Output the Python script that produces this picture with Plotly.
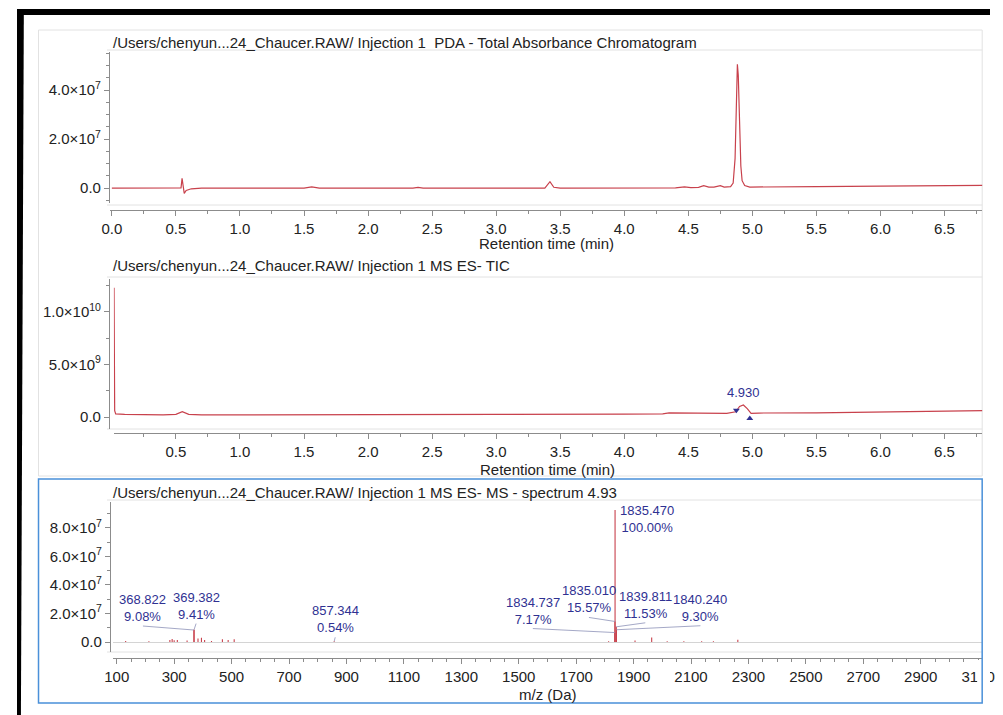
import plotly.graph_objects as go

# The page body has an 8 px margin, so the figure is offset by 8 px inside the 1003x715 window.
OFF = 8
FW, FH = 1003 - OFF, 715 - OFF


def px(x):
    """reference-window x pixel -> paper fraction"""
    return (x - OFF) / FW


def py(y):
    """reference-window y pixel -> paper fraction"""
    return 1 - (y - OFF) / FH


# ---------------- data ----------------
pda_title = "/Users/chenyun...24_Chaucer.RAW/ Injection 1 \u00a0PDA - Total Absorbance Chromatogram"
tic_title = "/Users/chenyun...24_Chaucer.RAW/ Injection 1 MS ES- TIC"
ms_title = "/Users/chenyun...24_Chaucer.RAW/ Injection 1 MS ES- MS - spectrum 4.93"

pda_time = [0.00, 0.50, 0.54, 0.548, 0.556, 0.565, 0.58, 0.62, 0.70, 1.50, 1.56, 1.62,
            2.35, 2.39, 2.43, 3.38, 3.42, 3.45, 3.50, 4.40, 4.47, 4.52, 4.58, 4.62,
            4.66, 4.70, 4.75, 4.78, 4.83, 4.85, 4.865, 4.875, 4.883, 4.89, 4.90, 4.91,
            4.92, 4.94, 4.98, 5.10, 5.50, 6.00, 6.50, 6.80]
pda_abs = [0.0, 0.0, 1.0e5, 4.0e6, 5.0e5, -2.2e6, -1.0e6, -3.0e5, 0.0, 0.0, 5.0e5, 0.0,
           0.0, 3.0e5, 0.0, 0.0, 2.6e6, 3.0e5, 0.0, 1.0e5, 5.0e5, 2.0e5, 3.0e5, 1.0e6,
           4.0e5, 4.0e5, 1.0e6, 4.0e5, 6.0e5, 2.0e6, 1.2e7, 3.8e7, 5.05e7, 4.6e7, 2.6e7, 9.0e6,
           3.0e6, 1.0e6, 4.0e5, 5.0e5, 6.0e5, 8.0e5, 1.0e6, 1.1e6]

tic_time = [0.017, 0.022, 0.03, 0.10, 0.40, 0.50, 0.55, 0.60, 0.70, 1.00, 2.00, 3.00,
            4.00, 4.30, 4.35, 4.50, 4.80, 4.87, 4.90, 4.93, 4.96, 4.99, 5.05, 5.50,
            6.00, 6.50, 6.80]
tic_int = [1.23e10, 6.0e8, 3.0e8, 2.5e8, 2.0e8, 2.5e8, 5.0e8, 2.5e8, 2.0e8, 2.0e8, 2.2e8, 2.5e8,
           2.8e8, 3.0e8, 4.0e8, 3.8e8, 3.5e8, 5.0e8, 1.0e9, 1.15e9, 8.0e8, 3.5e8, 3.8e8, 4.0e8,
           4.5e8, 5.0e8, 6.0e8]
tic_peak_label = "4.930"
tic_peak_rt = 4.930
tic_peak_top = 1.15e9
tic_start_rt, tic_start_val = 4.875, 6.5e8
tic_end_rt, tic_end_val = 4.98, -1.5e8

# minor (unlabelled) spectrum sticks
ms_mz = [131, 212, 285, 293, 300, 311, 345, 383, 395, 406, 430, 468, 488, 509,
         1813, 1905, 1963, 2017, 2075, 2137, 2178, 2263]
ms_int = [8e5, 6e5, 1.5e6, 2.2e6, 1.2e6, 1.5e6, 1.0e6, 2.5e6, 3.0e6, 1.5e6, 8e5, 2.0e6, 1.5e6, 2.0e6,
          6e5, 1.0e6, 3.2e6, 6e5, 5e5, 6e5, 5e5, 1.6e6]
# labelled peaks
label_mz = [368.822, 369.382, 857.344, 1834.737, 1835.010, 1835.470, 1839.811, 1840.240]
label_pct = [9.08, 9.41, 0.54, 7.17, 15.57, 100.00, 11.53, 9.30]
base_int = 9.26e7

# ---------------- styles ----------------
FONT = "Liberation Sans, Arial, Helvetica, sans-serif"
RED = "#c8414c"
NAVY = "#2f3192"
AX = "#8c8c8c"
TXT = "#222222"
FAINT = "#e2e2e2"

fig = go.Figure()

fig.add_trace(go.Scatter(x=pda_time, y=pda_abs, mode="lines", line=dict(color=RED, width=1.2),
                         xaxis="x", yaxis="y", hoverinfo="skip", showlegend=False))
fig.add_trace(go.Scatter(x=tic_time, y=tic_int, mode="lines", line=dict(color=RED, width=1.2),
                         xaxis="x2", yaxis="y2", hoverinfo="skip", showlegend=False))
fig.add_trace(go.Scatter(x=[tic_start_rt], y=[tic_start_val], mode="markers",
                         marker=dict(symbol="triangle-down", size=6, color=NAVY),
                         xaxis="x2", yaxis="y2", hoverinfo="skip", showlegend=False))
fig.add_trace(go.Scatter(x=[tic_end_rt], y=[tic_end_val], mode="markers",
                         marker=dict(symbol="triangle-up", size=6, color=NAVY),
                         xaxis="x2", yaxis="y2", hoverinfo="skip", showlegend=False))

# spectrum sticks
all_mz = ms_mz + label_mz
all_int = ms_int + [base_int * p / 100 for p in label_pct]
sx, sy = [], []
for m, v in zip(all_mz, all_int):
    sx += [m, m, None]
    sy += [0, v, None]
fig.add_trace(go.Scatter(x=sx, y=sy, mode="lines", line=dict(color=RED, width=1.1),
                         xaxis="x3", yaxis="y3", hoverinfo="skip", showlegend=False))


def sup_label(mant, exp):
    return f"{mant}\u00d710<sup>{exp}</sup>"


common_x = dict(showline=True, linecolor=AX, linewidth=1, ticks="outside", ticklen=5, tickwidth=1,
                tickcolor=AX, showgrid=False, zeroline=False, anchor="free",
                tickfont=dict(size=15, color=TXT, family=FONT))
common_y = dict(showline=True, linecolor=AX, linewidth=1, ticks="outside", ticklen=5, tickwidth=1,
                tickcolor=AX, showgrid=False, zeroline=False, anchor="free", tickmode="array",
                tickfont=dict(size=15, color=TXT, family=FONT))

layout = dict(
    width=FW, height=FH, margin=dict(l=0, r=0, t=0, b=0),
    paper_bgcolor="white", plot_bgcolor="white", showlegend=False,
    font=dict(family=FONT, color=TXT),
    xaxis=dict(common_x, domain=[px(103), px(995)], range=[-0.0153, 6.794], position=py(210),
               tick0=0, dtick=0.5, tickformat=".1f",
               minor=dict(tickmode="linear", tick0=0, dtick=0.25, ticklen=3, tickcolor=AX, ticks="outside")),
    yaxis=dict(common_y, domain=[py(203), py(52)], range=[-6.1e6, 5.55e7], position=px(102),
               tickvals=[0, 2e7, 4e7], ticktext=["0.0", sup_label("2.0", 7), sup_label("4.0", 7)],
               minor=dict(tickmode="linear", tick0=0, dtick=5e6, ticklen=3, tickcolor=AX, ticks="outside")),
    xaxis2=dict(common_x, domain=[px(107), px(995)], range=[0.0153, 6.794], position=py(433),
                tick0=0, dtick=0.5, tickformat=".1f",
                minor=dict(tickmode="linear", tick0=0, dtick=0.25, ticklen=3, tickcolor=AX, ticks="outside")),
    yaxis2=dict(common_y, domain=[py(429), py(279)], range=[-1.14e9, 1.314e10], position=px(102),
                tickvals=[0, 5e9, 1e10], ticktext=["0.0", sup_label("5.0", 9), sup_label("1.0", 10)],
                minor=dict(tickmode="linear", tick0=0, dtick=2.5e9, ticklen=3, tickcolor=AX, ticks="outside")),
    xaxis3=dict(common_x, domain=[px(106), px(995)], range=[86.4, 3114], position=py(658),
                tick0=100, dtick=200, ticklabeloverflow="allow",
                minor=dict(tickmode="linear", tick0=100, dtick=50, ticklen=3, tickcolor=AX, ticks="outside")),
    yaxis3=dict(common_y, domain=[py(652), py(502)], range=[-7.0e6, 9.82e7], position=px(103),
                tickvals=[0, 2e7, 4e7, 6e7, 8e7],
                ticktext=["0.0", sup_label("2.0", 7), sup_label("4.0", 7), sup_label("6.0", 7), sup_label("8.0", 7)],
                zeroline=True, zerolinecolor="#d4d4d4", zerolinewidth=1,
                minor=dict(tickmode="linear", tick0=0, dtick=1e7, ticklen=3, tickcolor=AX, ticks="outside")),
)
fig.update_layout(**layout)

ann = []
# panel titles
for t, y in [(pda_title, 42), (tic_title, 266), (ms_title, 492)]:
    ann.append(dict(text=t, x=px(104), y=py(y), xref="paper", yref="paper", xanchor="left",
                    yanchor="middle", showarrow=False, font=dict(size=15, color=TXT, family=FONT)))
# axis titles
for t, x, y in [("Retention time (min)", 549, 243), ("Retention time (min)", 551, 469), ("m/z (Da)", 551, 694)]:
    ann.append(dict(text=t, x=px(x), y=py(y), xref="paper", yref="paper", xanchor="center",
                    yanchor="middle", showarrow=False, font=dict(size=15, color=TXT, family=FONT)))
# TIC peak label
ann.append(dict(text=tic_peak_label, x=tic_peak_rt, y=tic_peak_top, xref="x2", yref="y2",
                xanchor="center", yanchor="bottom", yshift=3, showarrow=False,
                font=dict(size=13, color=NAVY, family=FONT)))
# spectrum peak labels: (ax, ay) pixel offsets of the label's bottom-centre from the peak top
label_offsets = [(-51, -4), (2, -6), (1, -4), (-82, -4), (-26, -4), None, (29, -4), (84, -4)]
for m, p, off in zip(label_mz, label_pct, label_offsets):
    v = base_int * p / 100
    txt = f"{m:.3f}<br>{p:.2f}%"
    if off is None:
        ann.append(dict(text=txt, x=m, y=v, xref="x3", yref="y3", xanchor="left", yanchor="top",
                        xshift=3, yshift=9, showarrow=False, align="center",
                        font=dict(size=13, color=NAVY, family=FONT)))
    else:
        ann.append(dict(text=txt, x=m, y=v, xref="x3", yref="y3", ax=off[0], ay=off[1],
                        axref="pixel", ayref="pixel", xanchor="center", yanchor="bottom",
                        showarrow=True, arrowhead=0, arrowwidth=0.8, arrowcolor="#8d92b8",
                        standoff=0, align="center", font=dict(size=13, color=NAVY, family=FONT)))
fig.update_layout(annotations=ann)


def rect(x0, y0, x1, y1, **kw):
    return dict(type="rect", xref="paper", yref="paper", x0=px(x0), x1=px(x1), y0=py(y0), y1=py(y1), **kw)


def hline(x0, x1, y, color=FAINT, width=1):
    return dict(type="line", xref="paper", yref="paper", x0=px(x0), x1=px(x1), y0=py(y), y1=py(y),
                line=dict(color=color, width=width), layer="below")


shapes = [
    # panel frame (top + middle)
    rect(30, 30, 995, 476, line=dict(color=FAINT, width=1), layer="below"),
    hline(100, 995, 50), hline(100, 995, 205),
    hline(100, 995, 277), hline(100, 995, 429),
    hline(100, 995, 500), hline(100, 995, 652),
    # clip of the last m/z label
    rect(990, 660, 1003, 690, fillcolor="white", line=dict(width=0), layer="above"),
    # selected (blue) spectrum panel
    rect(30, 479, 995, 703, line=dict(color="#4a90d9", width=1.5), layer="above"),
    # black photo frame
    rect(8, 9, 1003, 15, fillcolor="black", line=dict(width=0), layer="above"),
    dict(type="path", xref="paper", yref="paper", layer="above", fillcolor="black", line=dict(width=0),
         path=f"M {px(8)} {py(9)} L {px(15)} {py(9)} L {px(12)} {py(715)} L {px(8)} {py(715)} Z"),
]
fig.update_layout(shapes=shapes)

fig.write_html("out.html")
